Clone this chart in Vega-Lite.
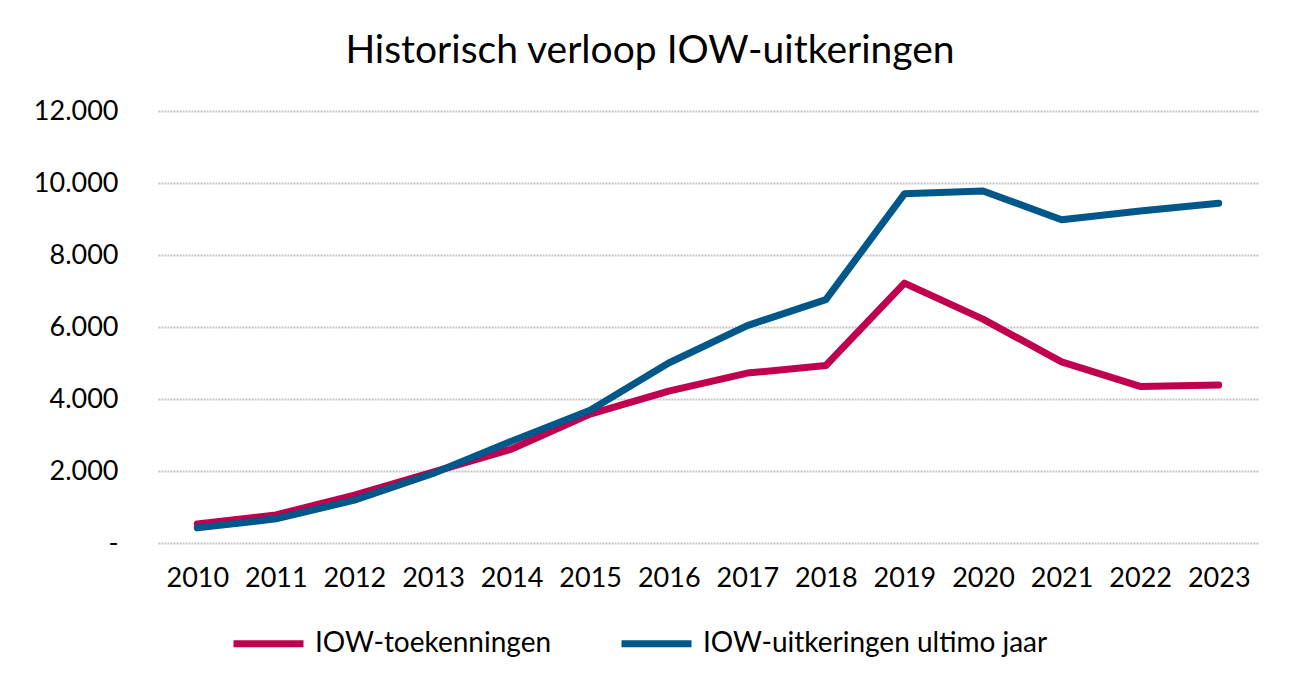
{
  "$schema": "https://vega.github.io/schema/vega-lite/v6.json",
  "width": 1100,
  "height": 432,
  "autosize": "none",
  "padding": {"left": 158, "top": 111, "right": 41, "bottom": 147},
  "background": "white",
  "view": {"stroke": null},
  "title": {
    "text": "Historisch verloop IOW-uitkeringen",
    "font": "Lato",
    "fontSize": 39,
    "fontWeight": "normal",
    "color": "#000000",
    "anchor": "middle",
    "dx": -58,
    "offset": 26
  },
  "data": {
    "values": [
      {"jaar": "2010", "reeks": "IOW-toekenningen", "aantal": 530},
      {"jaar": "2011", "reeks": "IOW-toekenningen", "aantal": 780},
      {"jaar": "2012", "reeks": "IOW-toekenningen", "aantal": 1330},
      {"jaar": "2013", "reeks": "IOW-toekenningen", "aantal": 1970},
      {"jaar": "2014", "reeks": "IOW-toekenningen", "aantal": 2610},
      {"jaar": "2015", "reeks": "IOW-toekenningen", "aantal": 3580},
      {"jaar": "2016", "reeks": "IOW-toekenningen", "aantal": 4220},
      {"jaar": "2017", "reeks": "IOW-toekenningen", "aantal": 4720},
      {"jaar": "2018", "reeks": "IOW-toekenningen", "aantal": 4930},
      {"jaar": "2019", "reeks": "IOW-toekenningen", "aantal": 7220},
      {"jaar": "2020", "reeks": "IOW-toekenningen", "aantal": 6220},
      {"jaar": "2021", "reeks": "IOW-toekenningen", "aantal": 5030},
      {"jaar": "2022", "reeks": "IOW-toekenningen", "aantal": 4350},
      {"jaar": "2023", "reeks": "IOW-toekenningen", "aantal": 4390},
      {"jaar": "2010", "reeks": "IOW-uitkeringen ultimo jaar", "aantal": 420},
      {"jaar": "2011", "reeks": "IOW-uitkeringen ultimo jaar", "aantal": 670},
      {"jaar": "2012", "reeks": "IOW-uitkeringen ultimo jaar", "aantal": 1190},
      {"jaar": "2013", "reeks": "IOW-uitkeringen ultimo jaar", "aantal": 1930},
      {"jaar": "2014", "reeks": "IOW-uitkeringen ultimo jaar", "aantal": 2830},
      {"jaar": "2015", "reeks": "IOW-uitkeringen ultimo jaar", "aantal": 3690},
      {"jaar": "2016", "reeks": "IOW-uitkeringen ultimo jaar", "aantal": 5000},
      {"jaar": "2017", "reeks": "IOW-uitkeringen ultimo jaar", "aantal": 6040},
      {"jaar": "2018", "reeks": "IOW-uitkeringen ultimo jaar", "aantal": 6760},
      {"jaar": "2019", "reeks": "IOW-uitkeringen ultimo jaar", "aantal": 9700},
      {"jaar": "2020", "reeks": "IOW-uitkeringen ultimo jaar", "aantal": 9780},
      {"jaar": "2021", "reeks": "IOW-uitkeringen ultimo jaar", "aantal": 8980},
      {"jaar": "2022", "reeks": "IOW-uitkeringen ultimo jaar", "aantal": 9220},
      {"jaar": "2023", "reeks": "IOW-uitkeringen ultimo jaar", "aantal": 9440}
    ]
  },
  "mark": {"type": "line", "strokeWidth": 7, "strokeCap": "round", "strokeJoin": "round"},
  "encoding": {
    "x": {
      "field": "jaar",
      "type": "ordinal",
      "scale": {"type": "point", "padding": 0.5},
      "axis": {
        "title": null,
        "labelAngle": 0,
        "labelFont": "Lato",
        "labelFontSize": 27,
        "labelColor": "#000000",
        "labelPadding": 22,
        "ticks": false,
        "domain": false,
        "grid": false
      }
    },
    "y": {
      "field": "aantal",
      "type": "quantitative",
      "scale": {"domain": [0, 12000]},
      "axis": {
        "title": null,
        "values": [0, 2000, 4000, 6000, 8000, 10000, 12000],
        "labelExpr": "datum.value == 0 ? '-\u00a0\u00a0' : replace(format(datum.value, ','), ',', '.')",
        "labelFont": "Lato",
        "labelFontSize": 27,
        "labelColor": "#000000",
        "labelPadding": 40,
        "ticks": false,
        "domain": false,
        "grid": true,
        "gridColor": "#C4C4C4",
        "gridWidth": 2,
        "gridDash": [2, 1]
      }
    },
    "color": {
      "field": "reeks",
      "type": "nominal",
      "scale": {
        "domain": ["IOW-toekenningen", "IOW-uitkeringen ultimo jaar"],
        "range": ["#C0004E", "#00578A"]
      },
      "legend": {
        "title": null,
        "orient": "none",
        "direction": "horizontal",
        "legendX": 72,
        "legendY": 494,
        "symbolType": "stroke",
        "symbolStrokeWidth": 7,
        "symbolSize": 4900,
        "labelFont": "Lato",
        "labelFontSize": 28,
        "labelColor": "#000000",
        "labelOffset": 8,
        "columnPadding": 55,
        "labelLimit": 500
      }
    }
  }
}
